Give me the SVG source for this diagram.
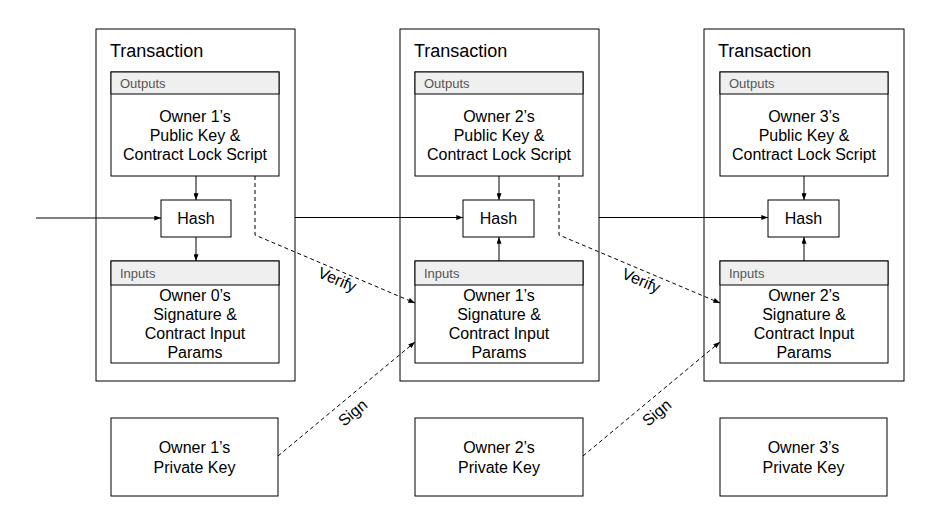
<svg xmlns="http://www.w3.org/2000/svg" width="947" height="520" viewBox="0 0 947 520">
<style>
.box{fill:#fff;stroke:#000;stroke-width:1}
.hdr{fill:#efefef;stroke:#000;stroke-width:1}
.title{font-family:"Liberation Sans",Arial,sans-serif;font-size:18px;fill:#000}
.h{font-family:"Liberation Sans",Arial,sans-serif;font-size:13px;fill:#555}
.t{font-family:"Liberation Sans",Arial,sans-serif;font-size:16px;fill:#000;text-anchor:middle}
.lbl{font-family:"Liberation Sans",Arial,sans-serif;font-size:16px;fill:#000;text-anchor:middle}
.c{fill:none;stroke:#000;stroke-width:1}
.d{fill:none;stroke:#000;stroke-width:1;stroke-dasharray:4,3}
</style>
<defs>
<marker id="ah" viewBox="0 0 8 6" refX="8" refY="3" markerWidth="7" markerHeight="5" markerUnits="userSpaceOnUse" orient="auto">
<path d="M0,0 L8,3 L0,6 z" fill="#000"/>
</marker>
</defs>
<rect width="947" height="520" fill="#fff"/>

<g id="tx1">
<rect class="box" x="96" y="29" width="199" height="352"/>
<text class="title" x="110" y="57">Transaction</text>
</g>
<g id="tx2">
<rect class="box" x="400" y="29" width="199" height="352"/>
<text class="title" x="414" y="57">Transaction</text>
</g>
<g id="tx3">
<rect class="box" x="704" y="29" width="200" height="352"/>
<text class="title" x="718" y="57">Transaction</text>
</g>

<g id="out1">
<rect class="box" x="111" y="72" width="168" height="104"/>
<rect class="hdr" x="111" y="72" width="168" height="22"/>
<text class="h" x="120" y="88">Outputs</text>
<text class="t" x="195" y="122">Owner 1’s</text>
<text class="t" x="195" y="141">Public Key &amp;</text>
<text class="t" x="195" y="160">Contract Lock Script</text>
</g>
<g id="out2">
<rect class="box" x="415" y="72" width="168" height="104"/>
<rect class="hdr" x="415" y="72" width="168" height="22"/>
<text class="h" x="424" y="88">Outputs</text>
<text class="t" x="499" y="122">Owner 2’s</text>
<text class="t" x="499" y="141">Public Key &amp;</text>
<text class="t" x="499" y="160">Contract Lock Script</text>
</g>
<g id="out3">
<rect class="box" x="720" y="72" width="168" height="104"/>
<rect class="hdr" x="720" y="72" width="168" height="22"/>
<text class="h" x="729" y="88">Outputs</text>
<text class="t" x="804" y="122">Owner 3’s</text>
<text class="t" x="804" y="141">Public Key &amp;</text>
<text class="t" x="804" y="160">Contract Lock Script</text>
</g>

<g id="hash1">
<rect class="box" x="161" y="200" width="70" height="37"/>
<text class="t" x="196" y="224">Hash</text>
</g>
<g id="hash2">
<rect class="box" x="463" y="200" width="71" height="37"/>
<text class="t" x="498.5" y="224">Hash</text>
</g>
<g id="hash3">
<rect class="box" x="768" y="200" width="71" height="37"/>
<text class="t" x="803.5" y="224">Hash</text>
</g>

<g id="in1">
<rect class="box" x="111" y="261" width="168" height="102"/>
<rect class="hdr" x="111" y="261" width="168" height="24"/>
<text class="h" x="120" y="278">Inputs</text>
<text class="t" x="195" y="301">Owner 0’s</text>
<text class="t" x="195" y="320">Signature &amp;</text>
<text class="t" x="195" y="339">Contract Input</text>
<text class="t" x="195" y="358">Params</text>
</g>
<g id="in2">
<rect class="box" x="415" y="261" width="168" height="102"/>
<rect class="hdr" x="415" y="261" width="168" height="24"/>
<text class="h" x="424" y="278">Inputs</text>
<text class="t" x="499" y="301">Owner 1’s</text>
<text class="t" x="499" y="320">Signature &amp;</text>
<text class="t" x="499" y="339">Contract Input</text>
<text class="t" x="499" y="358">Params</text>
</g>
<g id="in3">
<rect class="box" x="720" y="261" width="168" height="102"/>
<rect class="hdr" x="720" y="261" width="168" height="24"/>
<text class="h" x="729" y="278">Inputs</text>
<text class="t" x="804" y="301">Owner 2’s</text>
<text class="t" x="804" y="320">Signature &amp;</text>
<text class="t" x="804" y="339">Contract Input</text>
<text class="t" x="804" y="358">Params</text>
</g>

<g id="pk1">
<rect class="box" x="111" y="418" width="167" height="78"/>
<text class="t" x="194.5" y="453">Owner 1’s</text>
<text class="t" x="194.5" y="473">Private Key</text>
</g>
<g id="pk2">
<rect class="box" x="415" y="418" width="168" height="78"/>
<text class="t" x="499" y="453">Owner 2’s</text>
<text class="t" x="499" y="473">Private Key</text>
</g>
<g id="pk3">
<rect class="box" x="720" y="418" width="167" height="78"/>
<text class="t" x="803.5" y="453">Owner 3’s</text>
<text class="t" x="803.5" y="473">Private Key</text>
</g>

<g id="connectors">
<path class="c" d="M36,218 L161,218" marker-end="url(#ah)"/>
<path class="c" d="M295,217.5 L463,217.5" marker-end="url(#ah)"/>
<path class="c" d="M599,217.5 L768,217.5" marker-end="url(#ah)"/>
<path class="c" d="M196,176 L196,200" marker-end="url(#ah)"/>
<path class="c" d="M196,237 L196,261" marker-end="url(#ah)"/>
<path class="c" d="M499,176 L499,200" marker-end="url(#ah)"/>
<path class="c" d="M499,261 L499,237" marker-end="url(#ah)"/>
<path class="c" d="M804,176 L804,200" marker-end="url(#ah)"/>
<path class="c" d="M804,261 L804,237" marker-end="url(#ah)"/>
<path class="d" d="M255,176 L255,235 L415,303" marker-end="url(#ah)"/>
<path class="d" d="M559,176 L559,235 L720,303" marker-end="url(#ah)"/>
<path class="d" d="M278,456 L415,342" marker-end="url(#ah)"/>
<path class="d" d="M583,456 L720,342" marker-end="url(#ah)"/>
<text class="lbl" transform="translate(337,280) rotate(23)" y="5">Verify</text>
<text class="lbl" transform="translate(641,281) rotate(23)" y="5">Verify</text>
<text class="lbl" transform="translate(353,413) rotate(-40)" y="5">Sign</text>
<text class="lbl" transform="translate(657,413) rotate(-40)" y="5">Sign</text>
</g>
</svg>
